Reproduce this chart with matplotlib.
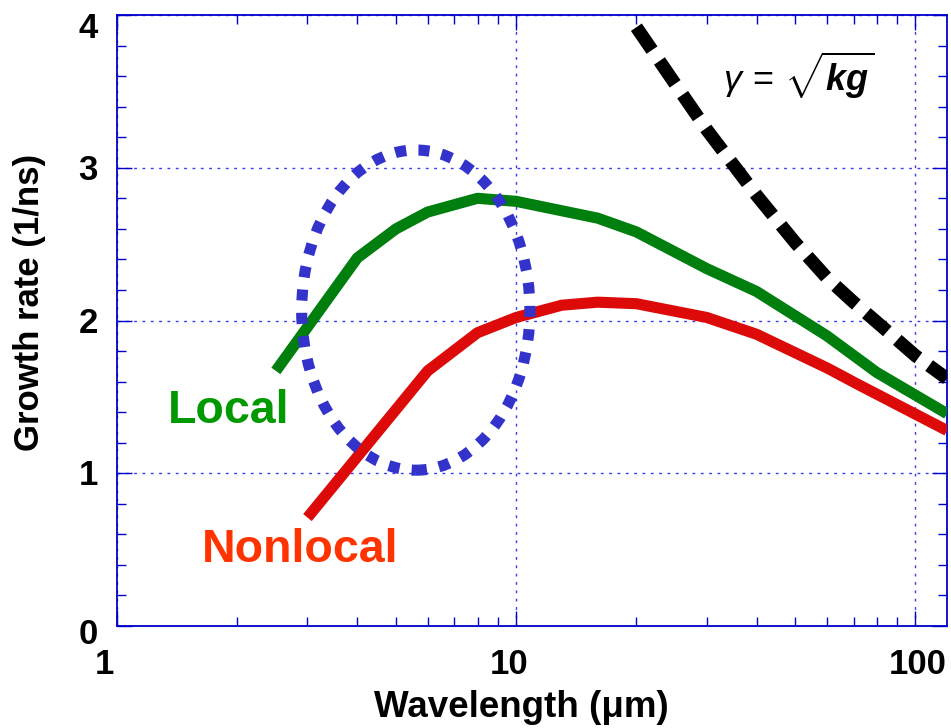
import matplotlib
matplotlib.use("Agg")
import matplotlib.pyplot as plt
from matplotlib.patches import Ellipse
from matplotlib.ticker import MultipleLocator, LogLocator, NullFormatter
from matplotlib.transforms import ScaledTranslation, blended_transform_factory

plt.rcParams["font.family"] = ["Liberation Sans", "DejaVu Sans"]
plt.rcParams["mathtext.fontset"] = "custom"
plt.rcParams["mathtext.rm"] = "Liberation Sans"
plt.rcParams["mathtext.it"] = "Liberation Sans:italic"
plt.rcParams["mathtext.bf"] = "Liberation Sans:bold"
plt.rcParams["mathtext.bfit"] = "Liberation Sans:bold:italic"

# Growth rate vs. perturbation wavelength
local_x = [2.5, 4.0, 5.0, 6.0, 8.0, 10, 16, 20, 30, 40, 60, 80, 120]
local_y = [1.67, 2.41, 2.60, 2.71, 2.80, 2.78, 2.67, 2.58, 2.34, 2.19, 1.90, 1.66, 1.39]

nonlocal_x = [3.0, 6.0, 8.0, 10, 13, 16, 20, 30, 40, 60, 72, 120]
nonlocal_y = [0.71, 1.67, 1.92, 2.02, 2.10, 2.12, 2.11, 2.02, 1.91, 1.69, 1.58, 1.28]

classic_x = [20, 25, 30, 40, 50, 60, 70, 80, 100, 120]
classic_y = [3.92, 3.55, 3.25, 2.82, 2.51, 2.28, 2.12, 1.99, 1.77, 1.62]

x_ticks = [1, 10, 100]
x_ticklabels = ["1", "10", "100"]
y_ticks = [0, 1, 2, 3, 4]
y_ticklabels = ["0", "1", "2", "3", "4"]

BLUE = "#0000cc"

fig = plt.figure(figsize=(9.51, 7.28), dpi=100)
ax = fig.add_axes([117 / 951, 102 / 728, 830 / 951, 611 / 728])
ax.set_xscale("log")
ax.set_xlim(1, 120)
ax.set_ylim(0, 4)

for s in ax.spines.values():
    s.set_color(BLUE)
    s.set_linewidth(1.3)

ax.set_xticks(x_ticks)
ax.set_yticks(y_ticks)
ax.xaxis.set_minor_locator(LogLocator(base=10, subs=range(2, 10)))
ax.xaxis.set_minor_formatter(NullFormatter())
ax.yaxis.set_minor_locator(MultipleLocator(0.2))
ax.tick_params(which="both", direction="in", top=True, right=True,
               color=BLUE, width=1, labelleft=False, labelbottom=False)
ax.tick_params(which="major", length=11)
ax.tick_params(which="minor", length=6.5)
ax.grid(which="major", color="#3a3aee", linestyle=(0, (2, 4)), linewidth=1)

# Tick labels placed as text so each can be nudged individually
dpi_tr = fig.dpi_scale_trans
ytr = blended_transform_factory(ax.transAxes, ax.transData)
y_shift = {0: 18.4, 1: 12.0, 2: 12.4, 3: 12.4, 4: 23.4}
for v, lab in zip(y_ticks, y_ticklabels):
    ax.text(0, v, lab, transform=ytr + ScaledTranslation(-19 / 100, -y_shift[v] / 100, dpi_tr),
            ha="right", va="baseline", fontsize=25, fontweight="bold", clip_on=False)
xtr = blended_transform_factory(ax.transData, ax.transAxes)
x_shift = {1: -13, 10: -7, 100: 2}
for v, lab in zip(x_ticks, x_ticklabels):
    ax.text(v, 0, lab, transform=xtr + ScaledTranslation(x_shift[v] / 100, -48 / 100, dpi_tr),
            ha="center", va="baseline", fontsize=25, fontweight="bold", clip_on=False)

ax.plot(classic_x, classic_y, color="black", lw=9.5, linestyle=(0, (2.1, 1.0)),
        dash_capstyle="butt", dash_joinstyle="round", zorder=3)
ax.plot(local_x, local_y, color="#007f0e", lw=8, solid_capstyle="butt",
        solid_joinstyle="round", zorder=3)
ax.plot(nonlocal_x, nonlocal_y, color="#dd0a0a", lw=8, solid_capstyle="butt",
        solid_joinstyle="round", zorder=3)

ax.add_patch(Ellipse((0.360, 0.517), 0.275, 0.524, transform=ax.transAxes,
                     fill=False, edgecolor="#3333cc", lw=8,
                     linestyle=(0, (1, 1.1)), zorder=4))

ax.text(1.342, 1.329, "Local", color="#009900", fontsize=33.5, fontweight="bold",
        ha="left", va="baseline")
ax.text(1.633, 0.419, "Nonlocal", color="#ff3300", fontsize=33.5, fontweight="bold",
        ha="left", va="baseline")
ax.text(32.9, 3.50, r"$\gamma\,=\,\sqrt{\mathbfit{kg}}$", fontsize=26,
        ha="left", va="baseline")

fig.text(30 / 951, 1 - 302 / 728, "Growth rate (1/ns)", rotation=90,
         ha="center", va="center", fontsize=25, fontweight="bold")
fig.text(521 / 951, 11 / 728, "Wavelength (\u03bcm)", ha="center", va="baseline",
         fontsize=26.5, fontweight="bold")

fig.savefig("out.png", dpi=100)
